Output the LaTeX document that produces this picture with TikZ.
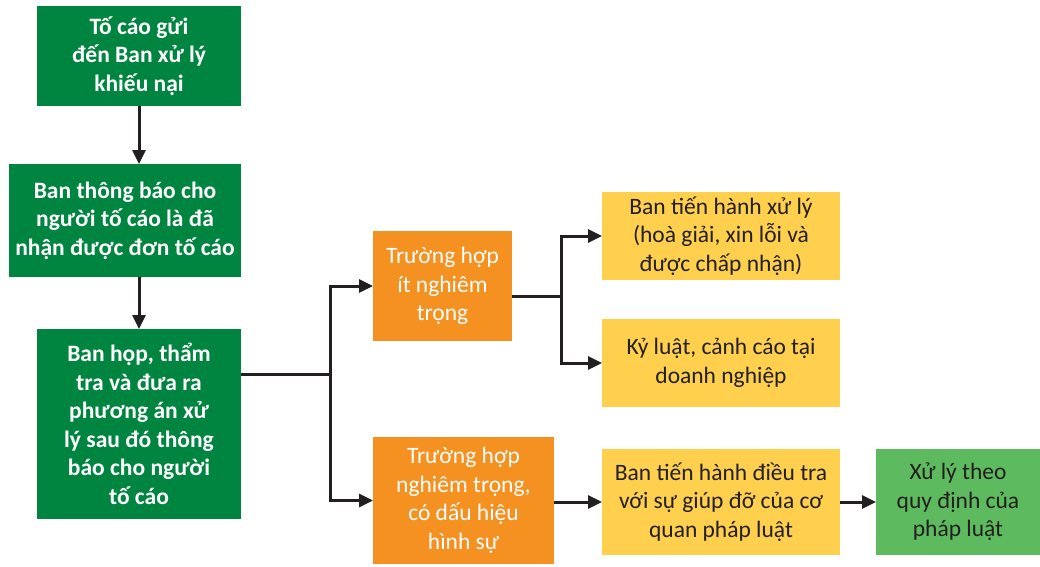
\documentclass[tikz,border=0pt]{standalone}
\usepackage{fontspec}
\setmainfont{Carlito}
\usetikzlibrary{arrows.meta,calc}
\definecolor{dgreen}{RGB}{0,133,64}
\definecolor{lgreen}{RGB}{94,186,94}
\definecolor{orng}{RGB}{244,145,32}
\definecolor{ylw}{RGB}{255,207,78}
\definecolor{ink}{RGB}{35,31,32}
\tikzset{
  every node/.style={inner sep=0pt, outer sep=0pt, align=center},
  boxbase/.style={font=\fontsize{23.5}{28.5}\selectfont},
  dbox/.style={boxbase, fill=dgreen, text=white, font=\fontsize{23.5}{28.5}\selectfont\bfseries},
  obox/.style={boxbase, fill=orng, text=white},
  ybox/.style={boxbase, fill=ylw, text=ink},
  gbox/.style={boxbase, fill=lgreen, text=ink},
  conn/.style={draw=ink, line width=3pt},
  arr/.style={conn, -{Triangle[length=14pt,width=13pt]}}
}
\begin{document}
\begin{tikzpicture}[x=1pt,y=-1pt]
\useasboundingbox (0,0) rectangle (1040,566);
\node[dbox, minimum width=204pt, minimum height=100pt] (b1) at (139,56) {Tố cáo gửi\\đến Ban xử lý\\khiếu nại};
\node[dbox, minimum width=232pt, minimum height=113pt] (b2) at (125,220.5) {Ban thông báo cho\\người tố cáo là đã\\nhận được đơn tố cáo};
\node[dbox, minimum width=204pt, minimum height=190pt] (b3) at (139,424) {Ban họp, thẩm\\tra và đưa ra\\phương án xử\\lý sau đó thông\\báo cho người\\tố cáo};
\node[obox, minimum width=139pt, minimum height=110pt] (o1) at (442.5,286) {Trường hợp\\ít nghiêm\\trọng};
\node[obox, minimum width=181pt, minimum height=127pt] (o2) at (463.5,500.5) {Trường hợp\\nghiêm trọng,\\có dấu hiệu\\hình sự};
\node[ybox, minimum width=238pt, minimum height=88pt] (y1) at (721,236) {Ban tiến hành xử lý\\(hoà giải, xin lỗi và\\được chấp nhận)};
\node[ybox, minimum width=238pt, minimum height=88pt] (y2) at (721,363) {Kỷ luật, cảnh cáo tại\\doanh nghiệp};
\node[ybox, minimum width=238pt, minimum height=106pt] (y3) at (721,502) {Ban tiến hành điều tra\\với sự giúp đỡ của cơ\\quan pháp luật};
\node[gbox, minimum width=164pt, minimum height=106pt] (g2) at (958,502) {Xử lý theo\\quy định của\\pháp luật};
\draw[arr] (b1.south) -- (b1.south |- b2.north);
\draw[arr] (b1.south |- b2.south) -- (b3.north);
\coordinate (s3) at ($(b3.north east)+(0,45)$);
\coordinate (j1) at (330,374);
\draw[conn] (s3) -- (j1);
\draw[arr] (j1) |- (o1.west);
\draw[arr] (j1) |- (o2.west);
\coordinate (s1) at ($(o1.east)+(0,10)$);
\coordinate (j2) at (561,296);
\draw[conn] (s1) -- (j2);
\draw[arr] (j2) |- (y1.west);
\draw[arr] (j2) |- (y2.west);
\draw[arr] (o2.east |- y3.west) -- (y3.west);
\draw[arr] (y3.east) -- (g2.west);
\end{tikzpicture}
\end{document}
